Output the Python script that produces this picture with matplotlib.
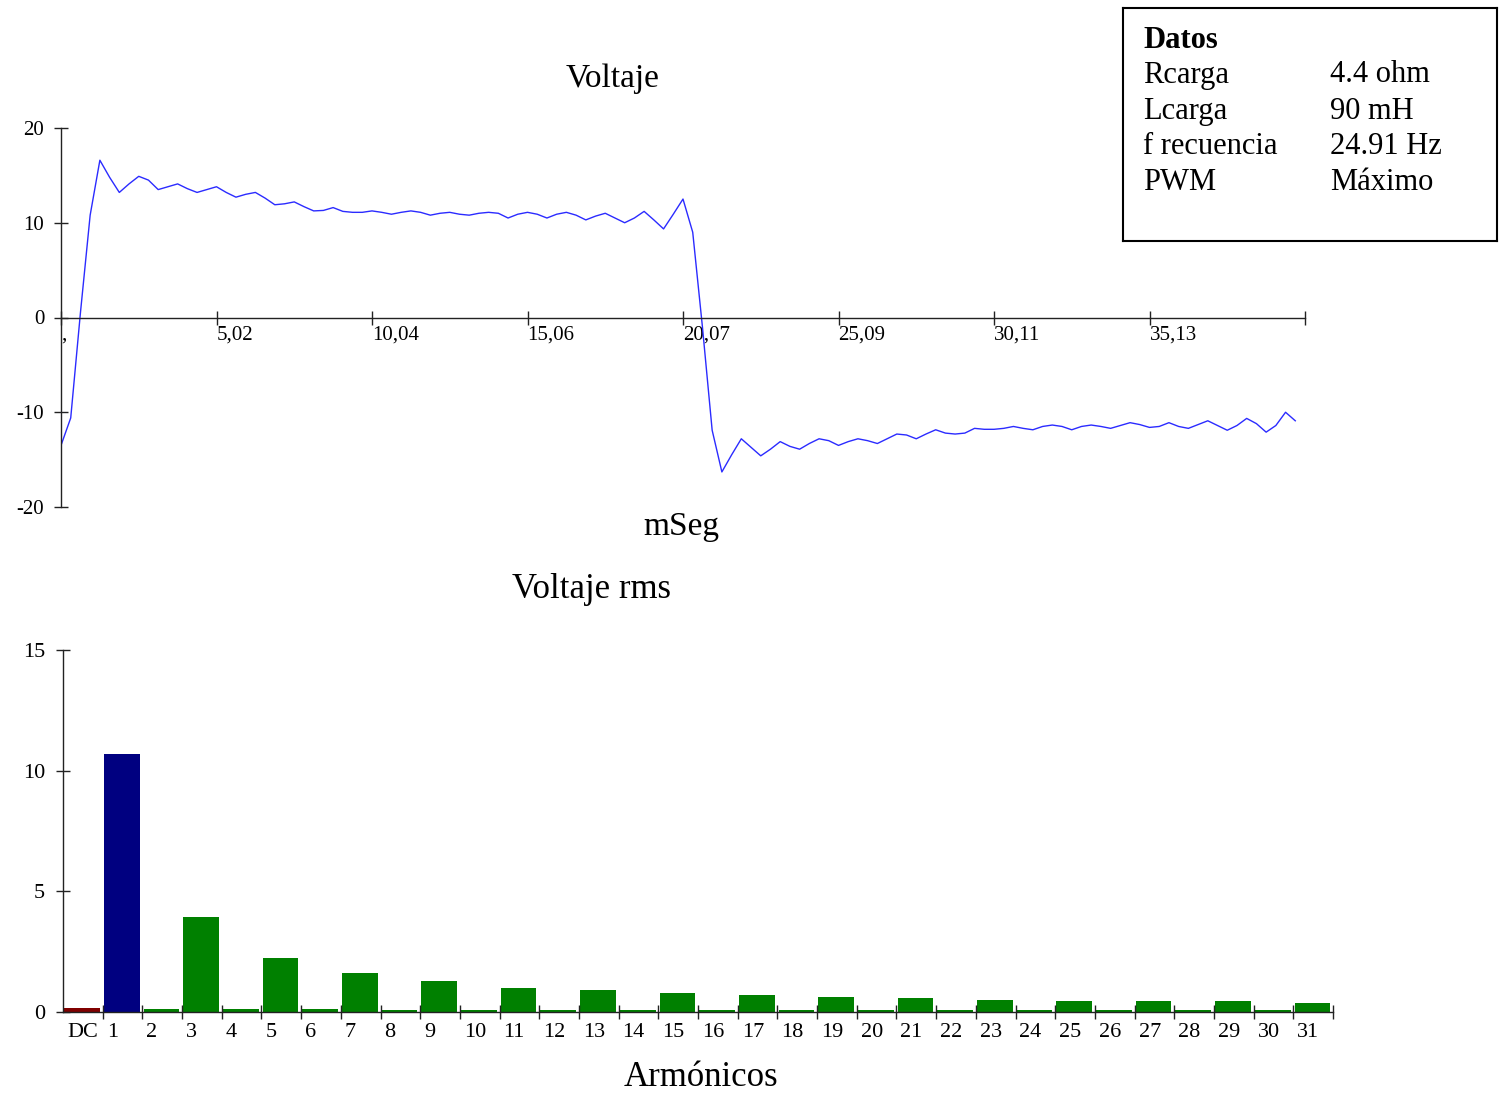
import numpy as np
import matplotlib
matplotlib.use('Agg')
import matplotlib.pyplot as plt

plt.rcParams['font.family'] = ['Liberation Serif', 'DejaVu Serif']

# voltage samples, one period (128 samples at 24.91 Hz)
periodo = 40.14
volt = [-13.5, -10.6, 0.5, 10.8, 16.6, 14.8, 13.2, 14.1, 14.9, 14.5, 13.5, 13.8,
        14.1, 13.6, 13.2, 13.5, 13.8, 13.2, 12.7, 13.0, 13.2, 12.6, 11.9, 12.0,
        12.2, 11.7, 11.25, 11.3, 11.6, 11.2, 11.1, 11.1, 11.25, 11.1, 10.9, 11.1,
        11.25, 11.1, 10.8, 11.0, 11.1, 10.9, 10.8, 11.0, 11.1, 11.0, 10.5, 10.9,
        11.1, 10.9, 10.5, 10.9, 11.1, 10.8, 10.3, 10.7, 11.0, 10.5, 10.0, 10.5,
        11.2, 10.3, 9.35, 10.9, 12.5, 9.0, -1.0, -11.9, -16.3, -14.5, -12.8, -13.7,
        -14.6, -13.9, -13.1, -13.6, -13.9, -13.3, -12.8, -13.0, -13.5, -13.1, -12.8, -13.0,
        -13.3, -12.8, -12.3, -12.4, -12.8, -12.3, -11.85, -12.2, -12.3, -12.2, -11.7, -11.8,
        -11.8, -11.7, -11.5, -11.7, -11.85, -11.5, -11.35, -11.5, -11.85, -11.5, -11.35, -11.5,
        -11.7, -11.4, -11.1, -11.3, -11.6, -11.5, -11.1, -11.5, -11.7, -11.3, -10.9, -11.4,
        -11.9, -11.4, -10.65, -11.2, -12.1, -11.4, -10.0, -10.9]
xtick_labels = [',', '5,02', '10,04', '15,06', '20,07', '25,09', '30,11', '35,13', '']
ytick_vals = [-20, -10, 0, 10, 20]

# harmonics
armonicos = ['DC'] + [str(i) for i in range(1, 32)]
vrms = [0.17, 10.69, 0.14, 3.93, 0.13, 2.25, 0.12, 1.63, 0.09, 1.30, 0.08, 1.01,
        0.10, 0.90, 0.10, 0.77, 0.10, 0.71, 0.10, 0.64, 0.10, 0.58, 0.10, 0.51,
        0.10, 0.44, 0.10, 0.44, 0.10, 0.44, 0.10, 0.39]
colores = ['#800000', '#000080'] + ['#008000'] * 30

datos = [('Rcarga', '4.4 ohm'), ('Lcarga', '90 mH'),
         ('f recuencia', '24.91 Hz'), ('PWM', 'Máximo')]

W, H = 1500, 1096
fig = plt.figure(figsize=(W / 100, H / 100), dpi=100)

# ---- voltage waveform ----
ax1 = fig.add_axes([61 / W, 1 - 507 / H, 1244 / W, 379 / H])
t = np.arange(len(volt)) * periodo / len(volt)
ax1.plot(t, volt, color='#2b2bff', lw=1.0)
ax1.set_xlim(0, periodo)
ax1.set_ylim(-20, 20)
ax1.spines['top'].set_visible(False)
ax1.spines['right'].set_visible(False)
ax1.spines['bottom'].set_position(('data', 0))
for s in ['left', 'bottom']:
    ax1.spines[s].set_color('#222222')
    ax1.spines[s].set_linewidth(1.0)
ax1.set_xticks(np.linspace(0, periodo, 9))
ax1.set_xticklabels(xtick_labels, ha='left')
ax1.set_yticks(ytick_vals)
ax1.set_yticklabels([str(v) for v in ytick_vals])
ax1.tick_params(axis='x', direction='inout', length=10, width=1.0,
                labelsize=15, pad=1, color='#222222')
ax1.tick_params(axis='y', direction='inout', length=10, width=1.0,
                labelsize=15, pad=7, color='#222222')

fig.text(613 / W, 1 - 79 / H, 'Voltaje', ha='center', va='center', size=24)
fig.text(681 / W, 1 - 527 / H, 'mSeg', ha='center', va='center', size=24)

# ---- harmonics bars ----
ax2 = fig.add_axes([63 / W, 1 - 1012 / H, 1270 / W, 362 / H])
pos = np.arange(len(vrms))
ax2.bar(pos + 0.03, vrms, width=0.9, align='edge', color=colores,
        edgecolor='none')
ax2.set_xlim(0, len(vrms))
ax2.set_ylim(0, 15)
ax2.spines['top'].set_visible(False)
ax2.spines['right'].set_visible(False)
for s in ['left', 'bottom']:
    ax2.spines[s].set_color('#222222')
    ax2.spines[s].set_linewidth(1.0)
ax2.set_xticks(np.arange(1, len(vrms) + 1))
ax2.set_xticklabels([])
ax2.set_xticks(pos + 0.1, minor=True)
ax2.set_xticklabels(armonicos, minor=True, ha='left')
ax2.tick_params(axis='x', which='major', direction='inout', length=10,
                width=1.0, color='#222222')
ax2.tick_params(axis='x', which='minor', length=0, labelsize=16, pad=8)
ax2.set_yticks([0, 5, 10, 15])
ax2.tick_params(axis='y', direction='inout', length=10, width=1.0,
                labelsize=16, pad=8, color='#222222')

fig.text(592 / W, 1 - 590 / H, 'Voltaje rms', ha='center', va='center', size=25)
fig.text(701 / W, 1 - 1078 / H, 'Armónicos', ha='center', va='center', size=25)

# ---- info box ----
axb = fig.add_axes([1123 / W, 1 - 241 / H, 374 / W, 233 / H])
axb.set_xticks([])
axb.set_yticks([])
for s in axb.spines.values():
    s.set_linewidth(1.5)
    s.set_color('black')
fig.text(1143 / W, 1 - 40 / H, 'Datos', ha='left', va='center', size=22,
         weight='bold')
for k, (nombre, valor) in enumerate(datos):
    y = 1 - (75 + 36 * k) / H
    fig.text(1143 / W, y, nombre, ha='left', va='center', size=22)
    fig.text(1330 / W, y, valor, ha='left', va='center', size=22)

fig.savefig('out.png', dpi=100, facecolor='white')
